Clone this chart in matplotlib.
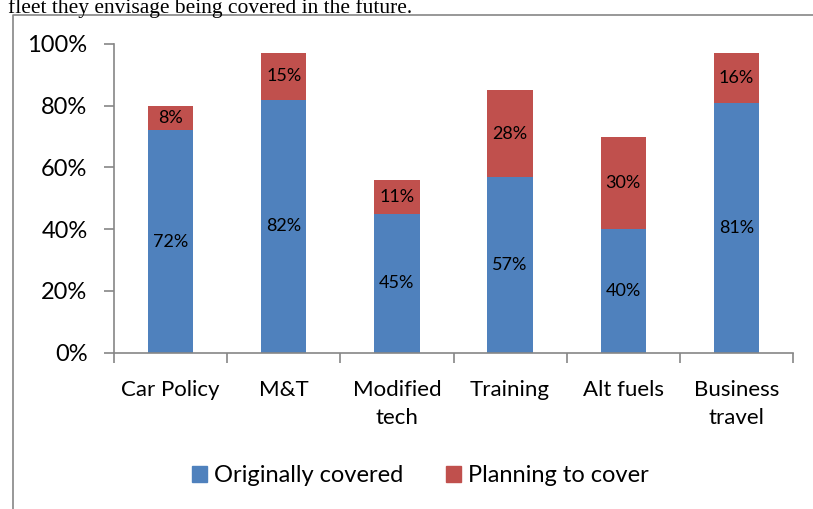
import numpy as np
import matplotlib
matplotlib.use("Agg")
import matplotlib.pyplot as plt
import matplotlib.patches as patches
from matplotlib.lines import Line2D

categories=["Car Policy","M&T","Modified\ntech","Training","Alt fuels","Business\ntravel"]
covered=[72,82,45,57,40,81]
planning=[8,15,11,28,30,16]
series_names=["Originally covered","Planning to cover"]
yticks=[0,20,40,60,80,100]

blue="#4F81BD"
red="#C0504D"
grey="#868686"

W,H=813,509
fig=plt.figure(figsize=(W/100,H/100),dpi=100)

def fx(px):return px/W
def fy(py):return 1-py/H

# frame of the embedded chart
fig.add_artist(Line2D([fx(13),fx(13),fx(W+5)],[fy(H+5),fy(15),fy(15)],color=grey,lw=1.2,transform=fig.transFigure))

# cut off caption line above the chart
fig.text(fx(8),fy(12.5),"fleet they envisage being covered in the future.",
         family="Liberation Serif",fontsize=15.5,va="baseline",ha="left")

ax=fig.add_axes([fx(114),fy(352.7),fx(793)-fx(114),fy(44)-fy(352.7)])
x=np.arange(len(categories))
bw=0.4
ax.bar(x,covered,bw,color=blue,label=series_names[0],zorder=2)
ax.bar(x,planning,bw,bottom=covered,color=red,label=series_names[1],zorder=2)

lab_font=dict(family="Lato",fontsize=13,ha="center",va="center",color="black")
for i in range(len(categories)):
  ax.text(x[i],covered[i]/2,"%d%%"%covered[i],**lab_font)
  ax.text(x[i],covered[i]+planning[i]/2,"%d%%"%planning[i],**lab_font)

ax.set_xlim(-0.5,len(categories)-0.5)
ax.set_ylim(0,100)
ax.set_yticks(yticks)
ax.set_yticklabels(["%d%%"%v for v in yticks],family="Lato",fontsize=17)
ax.set_xticks(x)
ax.set_xticklabels(categories,family="Lato",fontsize=16,linespacing=1.45)
ax.set_xticks(np.arange(len(categories)+1)-0.5,minor=True)
ax.tick_params(axis="x",which="major",length=0,pad=20)
ax.tick_params(axis="x",which="minor",length=7,width=1.2,color=grey)
ax.tick_params(axis="y",length=7,width=1.2,color=grey,pad=12)
for s in ["top","right"]:
  ax.spines[s].set_visible(False)
for s in ["left","bottom"]:
  ax.spines[s].set_color(grey)
  ax.spines[s].set_linewidth(1.2)

handles=[patches.Patch(color=blue),patches.Patch(color=red)]
fig.legend(handles,series_names,loc="center",bbox_to_anchor=(fx(420),fy(476)),ncol=2,
           frameon=False,prop={"family":"Lato","size":17},handlelength=0.64,handleheight=0.64,
           handletextpad=0.3,columnspacing=1.8)

plt.savefig("out.png",dpi=100)
